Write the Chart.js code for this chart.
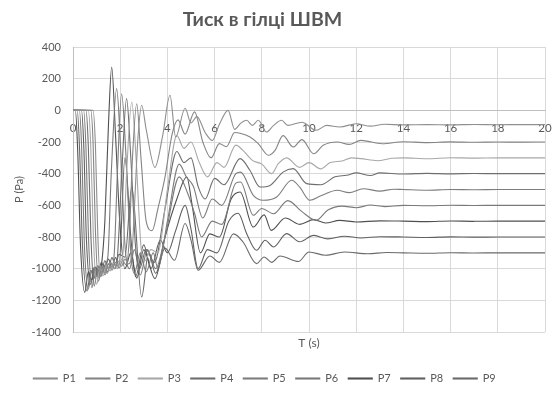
<!DOCTYPE html>
<html><head><meta charset="utf-8">
<script src="https://cdn.jsdelivr.net/npm/chart.js@4"></script>
<style>html,body{margin:0;padding:0;background:#fff}</style>
</head><body>
<canvas id="c" width="559" height="394"></canvas>
<script>
const TITLE = 'Тиск в гілці ШВМ';
const X_TITLE = 'T (s)';
const Y_TITLE = 'P (Pa)';
const SERIES_NAMES = ['P1','P2','P3','P4','P5','P6','P7','P8','P9'];

// [time (s), pressure (Pa)]
const P1 = [[0,0],[0.85,0],[0.95,-220],[1.05,-780],[1.15,-1050],[1.3,-990],[1.45,-1030],[1.6,-960],[1.75,-1000],[1.9,-950],[2.05,-985],[2.2,-940],[2.35,-970],[2.5,-900],[2.62,-560],[2.75,-180],[2.91,32],[3.1,-120],[3.47,-360],[3.8,-160],[4.11,95],[4.35,-168],[4.75,13],[5.0,-80],[5.25,-40],[5.6,-140],[5.9,-190],[6.2,-90],[6.57,0],[6.85,-120],[7.1,-82],[7.36,-63],[7.6,-95],[7.85,-63],[8.2,-137],[8.5,-95],[8.84,-63],[9.1,-95],[9.7,-75],[10.3,-126],[10.75,-95],[11.3,-105],[12,-85],[12.6,-100],[13.2,-88],[14,-92],[15,-90],[16,-92],[17,-89],[18,-91],[19,-90],[20,-90]];
const P2 = [[0,0],[0.75,0],[0.85,-200],[0.95,-760],[1.08,-1080],[1.22,-990],[1.36,-1040],[1.5,-970],[1.65,-1010],[1.8,-960],[1.95,-995],[2.1,-950],[2.25,-975],[2.38,-820],[2.52,-300],[2.7,42],[2.88,-300],[3.1,-700],[3.35,-760],[3.6,-620],[3.9,-420],[4.2,-150],[4.45,-60],[4.75,-150],[5.15,-10],[5.5,-200],[5.85,-300],[6.2,-210],[6.5,-230],[6.85,-140],[7.08,-145],[7.5,-168],[7.85,-210],[8.28,-284],[8.56,-253],[8.9,-160],[9.33,-232],[9.7,-185],[10.2,-274],[10.6,-221],[11.2,-200],[11.7,-215],[12.2,-190],[13.1,-211],[14,-198],[15,-204],[16,-199],[17,-202],[18,-200],[19,-201],[20,-200]];
const P3 = [[0,0],[0.65,0],[0.75,-220],[0.86,-780],[1.0,-1100],[1.14,-1000],[1.28,-1045],[1.42,-975],[1.57,-1015],[1.72,-965],[1.87,-1000],[2.0,-955],[2.12,-900],[2.27,-400],[2.49,53],[2.68,-320],[2.88,-860],[3.05,-950],[3.3,-880],[3.6,-900],[4.0,-500],[4.4,-160],[4.7,-240],[5.0,-200],[5.35,-330],[5.7,-420],[6.1,-330],[6.4,-360],[6.9,-220],[7.2,-253],[7.6,-316],[8.0,-340],[8.42,-400],[8.7,-337],[9.05,-300],[9.6,-360],[10.0,-330],[10.5,-370],[10.9,-330],[11.4,-320],[11.8,-300],[12.2,-305],[12.9,-318],[13.5,-303],[14,-300],[15,-306],[16,-299],[17,-302],[18,-300],[20,-300]];
const P4 = [[0,0],[0.55,0],[0.65,-230],[0.76,-800],[0.9,-1110],[1.04,-1000],[1.18,-1050],[1.32,-980],[1.46,-1020],[1.6,-965],[1.75,-1000],[1.88,-930],[2.05,-450],[2.27,74],[2.45,-300],[2.65,-860],[2.82,-1000],[3.1,-880],[3.45,-960],[3.9,-620],[4.4,-260],[4.7,-330],[5.0,-300],[5.3,-480],[5.6,-560],[6.0,-430],[6.4,-470],[7.08,-305],[7.5,-380],[7.92,-484],[8.35,-474],[8.9,-390],[9.33,-368],[9.9,-463],[10.5,-470],[11.1,-420],[11.6,-410],[12,-395],[12.6,-412],[13,-395],[14,-402],[15,-398],[16,-401],[17,-399],[18,-400],[20,-400]];
const P5 = [[0,0],[0.45,0],[0.55,-240],[0.66,-820],[0.8,-1120],[0.94,-1005],[1.08,-1055],[1.22,-985],[1.36,-1025],[1.5,-970],[1.63,-990],[1.75,-900],[1.88,-400],[2.06,105],[2.25,-300],[2.45,-900],[2.6,-1030],[2.85,-900],[3.1,-1020],[3.4,-900],[3.6,-1000],[4.0,-700],[4.5,-340],[4.8,-420],[5.1,-480],[5.5,-680],[5.9,-560],[6.3,-600],[6.9,-400],[7.1,-390],[7.64,-537],[8.06,-568],[8.63,-547],[9.27,-442],[9.6,-484],[10.04,-568],[10.5,-540],[11.2,-505],[11.7,-520],[12.3,-495],[13,-510],[13.6,-498],[14,-500],[15,-505],[16,-500],[17,-502],[18,-500],[20,-500]];
const P6 = [[0,0],[0.27,0],[0.37,-250],[0.48,-840],[0.65,-1130],[0.8,-1010],[0.94,-1060],[1.08,-990],[1.22,-1030],[1.36,-975],[1.48,-920],[1.62,-400],[1.85,137],[2.02,-250],[2.2,-850],[2.4,-1000],[2.6,-880],[2.85,-1040],[3.15,-880],[3.5,-1000],[3.9,-800],[4.5,-420],[4.85,-520],[5.15,-650],[5.45,-800],[5.9,-700],[6.3,-720],[6.9,-460],[7.1,-453],[7.64,-663],[8.0,-620],[8.5,-653],[9.1,-570],[9.7,-640],[10.3,-695],[10.8,-630],[11.4,-605],[12,-615],[12.6,-598],[13.2,-608],[14,-600],[15,-603],[16,-599],[17,-601],[18,-600],[20,-600]];
const P7 = [[0,0],[0.1,0],[0.2,-260],[0.32,-860],[0.5,-1150],[0.65,-1020],[0.8,-1070],[0.95,-990],[1.1,-1040],[1.22,-960],[1.35,-700],[1.5,-100],[1.64,274],[1.8,-150],[1.98,-700],[2.2,-1000],[2.45,-900],[2.7,-1060],[3.0,-880],[3.47,-1063],[3.9,-800],[4.4,-560],[4.82,-421],[5.05,-600],[5.4,-900],[5.8,-780],[6.2,-800],[6.7,-560],[7.08,-516],[7.64,-737],[8.1,-660],[8.4,-758],[9.0,-680],[9.6,-720],[10.2,-690],[10.7,-712],[11.3,-695],[12,-705],[13,-698],[14,-700],[15,-703],[16,-699],[17,-701],[18,-700],[20,-700]];
const P8 = [[0,0],[0.36,0],[0.46,-240],[0.57,-820],[0.75,-1100],[0.9,-990],[1.05,-1040],[1.2,-960],[1.35,-1000],[1.5,-940],[1.65,-990],[1.8,-930],[1.95,-980],[2.2,-300],[2.45,-800],[2.65,-1050],[3.0,-850],[3.3,-1000],[3.7,-820],[4.0,-900],[4.35,-760],[4.75,-600],[5.0,-750],[5.3,-1000],[5.7,-880],[6.1,-900],[6.6,-700],[7.0,-650],[7.36,-779],[7.78,-884],[8.14,-821],[8.5,-863],[9.05,-779],[9.6,-830],[10.2,-790],[10.8,-812],[11.5,-795],[12.2,-806],[13,-798],[14,-800],[15,-803],[16,-799],[17,-801],[18,-800],[20,-800]];
const P9 = [[0,0],[0.18,0],[0.28,-250],[0.4,-850],[0.6,-1140],[0.75,-1010],[0.9,-1060],[1.05,-980],[1.2,-1020],[1.35,-950],[1.5,-1000],[1.65,-930],[1.8,-980],[1.95,-910],[2.2,-927],[2.49,-484],[2.91,-1179],[3.2,-900],[3.5,-1030],[3.9,-870],[4.3,-947],[4.75,-715],[5.0,-820],[5.3,-1010],[5.8,-920],[6.2,-960],[6.8,-780],[7.2,-830],[7.78,-968],[8.1,-926],[8.42,-960],[8.77,-920],[9.55,-955],[10.0,-895],[10.7,-915],[11.5,-895],[12.5,-906],[13.3,-898],[14,-900],[15,-903],[16,-899],[17,-901],[18,-900],[20,-900]];

const SERIES = [P1,P2,P3,P4,P5,P6,P7,P8,P9];
const COLORS = ['#8f8f8f','#858585','#a8a8a8','#6e6e6e','#7d7d7d','#7a7a7a','#505050','#606060','#6a6a6a'];

const datasets = SERIES.map((s, i) => ({
  label: SERIES_NAMES[i],
  data: s.map(p => ({x: p[0], y: p[1]})),
  borderColor: COLORS[i],
  backgroundColor: COLORS[i],
  borderWidth: 1.1,
  pointRadius: 0,
  cubicInterpolationMode: 'monotone',
  fill: false
}));

const boxShift = {
  id: 'boxShift',
  afterLayout(chart) {
    if (chart.legend) { chart.legend.left -= 8; chart.legend.right -= 8; }
    if (chart.titleBlock) { chart.titleBlock.left -= 10; chart.titleBlock.right -= 10; }
  }
};

const TXT = '#595959';
new Chart(document.getElementById('c'), {
  type: 'line',
  data: { datasets },
  plugins: [boxShift],
  options: {
    responsive: false,
    animation: false,
    layout: { padding: { left: 0, right: 14, top: 0, bottom: 0 } },
    plugins: {
      title: { display: true, text: TITLE, color: TXT, font: { family: 'Lato', size: 19.5, weight: 'bold' }, padding: { top: 8, bottom: 15.6 } },
      legend: { position: 'bottom', labels: { boxWidth: 24, boxHeight: 1, color: TXT, font: { family: 'Lato', size: 11 }, padding: 10 } },
      tooltip: { enabled: false }
    },
    scales: {
      x: {
        type: 'linear', min: 0, max: 20, position: { y: 0 },
        ticks: { stepSize: 2, color: TXT, font: { family: 'Lato', size: 11.5, lineHeight: 2.4 }, padding: 4, maxRotation: 0 },
        grid: { color: '#d9d9d9', drawTicks: false },
        border: { color: '#bfbfbf' }
      },
      xb: {
        type: 'linear', position: 'bottom', min: 0, max: 20,
        ticks: { display: false }, grid: { display: false, drawTicks: false }, border: { display: false },
        title: { display: true, text: X_TITLE, color: TXT, font: { family: 'Lato', size: 12 }, padding: { top: 4, bottom: 12.6 } }
      },
      y: {
        type: 'linear', min: -1400, max: 400,
        ticks: { stepSize: 200, color: TXT, font: { family: 'Lato', size: 11 }, padding: 12, callback: v => String(v) },
        grid: { color: '#d9d9d9', drawTicks: false },
        border: { color: '#bfbfbf' },
        title: { display: true, text: Y_TITLE, color: TXT, font: { family: 'Lato', size: 11 }, padding: { top: 13, bottom: 0 } },
        afterFit(s) { s.width = 73; }
      }
    }
  }
});
</script>
</body></html>
